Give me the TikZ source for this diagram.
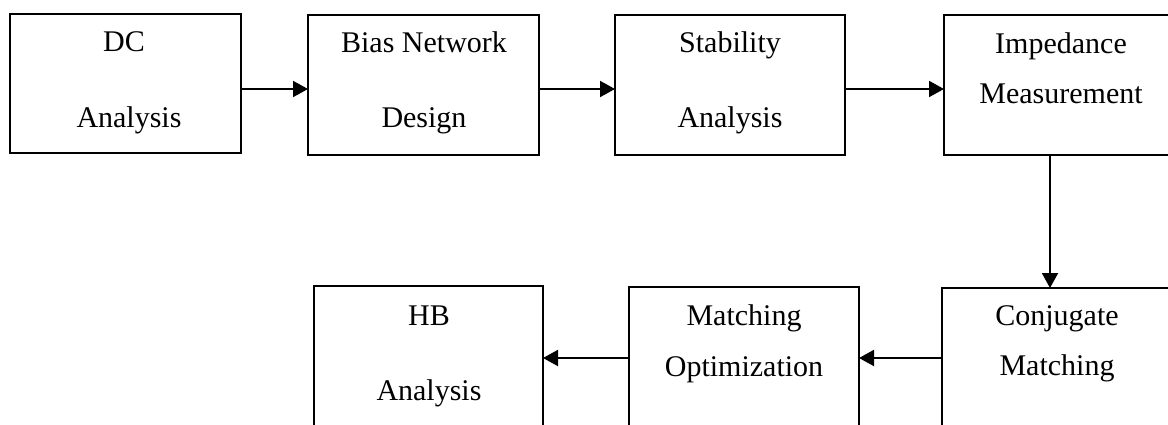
\documentclass[tikz,border=0pt]{standalone}
\usepackage{fontspec}
\setmainfont{Liberation Serif}
\usetikzlibrary{arrows.meta}
\begin{document}
\begin{tikzpicture}[x=1pt,y=-1pt,
  box/.style={draw, line width=2pt, rectangle, inner sep=0pt, outer sep=0pt, anchor=north west},
  lbl/.style={font=\fontsize{30}{31}\selectfont, anchor=base, inner sep=0pt},
  arr/.style={line width=2pt, -{Triangle[length=15pt,width=16pt]}}]
\useasboundingbox (0,0) rectangle (1168,425);
\clip (0,0) rectangle (1168,425);
% boxes
\node[box, minimum width=231pt, minimum height=139pt] (b1) at (10,14) {};
\node[box, minimum width=231pt, minimum height=140pt] (b2) at (308,15) {};
\node[box, minimum width=230pt, minimum height=140pt] (b3) at (615,15) {};
\node[box, minimum width=240pt, minimum height=140pt] (b4) at (944,15) {};
\node[box, minimum width=235pt, minimum height=160pt] (b5) at (942,288) {};
\node[box, minimum width=230pt, minimum height=160pt] (b6) at (629,287) {};
\node[box, minimum width=229pt, minimum height=160pt] (b7) at (314,286) {};
% labels
\node[lbl] (t1a) at (124,52) {DC};
\node[lbl] (t1b) at (129,128) {Analysis};
\node[lbl] (t2a) at (424,53) {Bias Network};
\node[lbl] (t2b) at (424,128) {Design};
\node[lbl] (t3a) at (730,53) {Stability};
\node[lbl] (t3b) at (730,128) {Analysis};
\node[lbl] (t4a) at (1061,54) {Impedance};
\node[lbl] (t4b) at (1061,104) {Measurement};
\node[lbl] (t5a) at (1057,325) {Conjugate};
\node[lbl] (t5b) at (1057,375) {Matching};
\node[lbl] (t6a) at (744,325) {Matching};
\node[lbl] (t6b) at (744,376) {Optimization};
\node[lbl] (t7a) at (429,325) {HB};
\node[lbl] (t7b) at (429,400) {Analysis};
% connectors
\coordinate (rowA) at (0,89);
\coordinate (rowB) at (0,358);
\coordinate (colD) at (1050,0);
\draw[arr] (b1.east |- rowA) -- (b2.west |- rowA);
\draw[arr] (b2.east |- rowA) -- (b3.west |- rowA);
\draw[arr] (b3.east |- rowA) -- (b4.west |- rowA);
\draw[arr] (b4.south -| colD) -- (b5.north -| colD);
\draw[arr] (b5.west |- rowB) -- (b6.east |- rowB);
\draw[arr] (b6.west |- rowB) -- (b7.east |- rowB);
\end{tikzpicture}
\end{document}
